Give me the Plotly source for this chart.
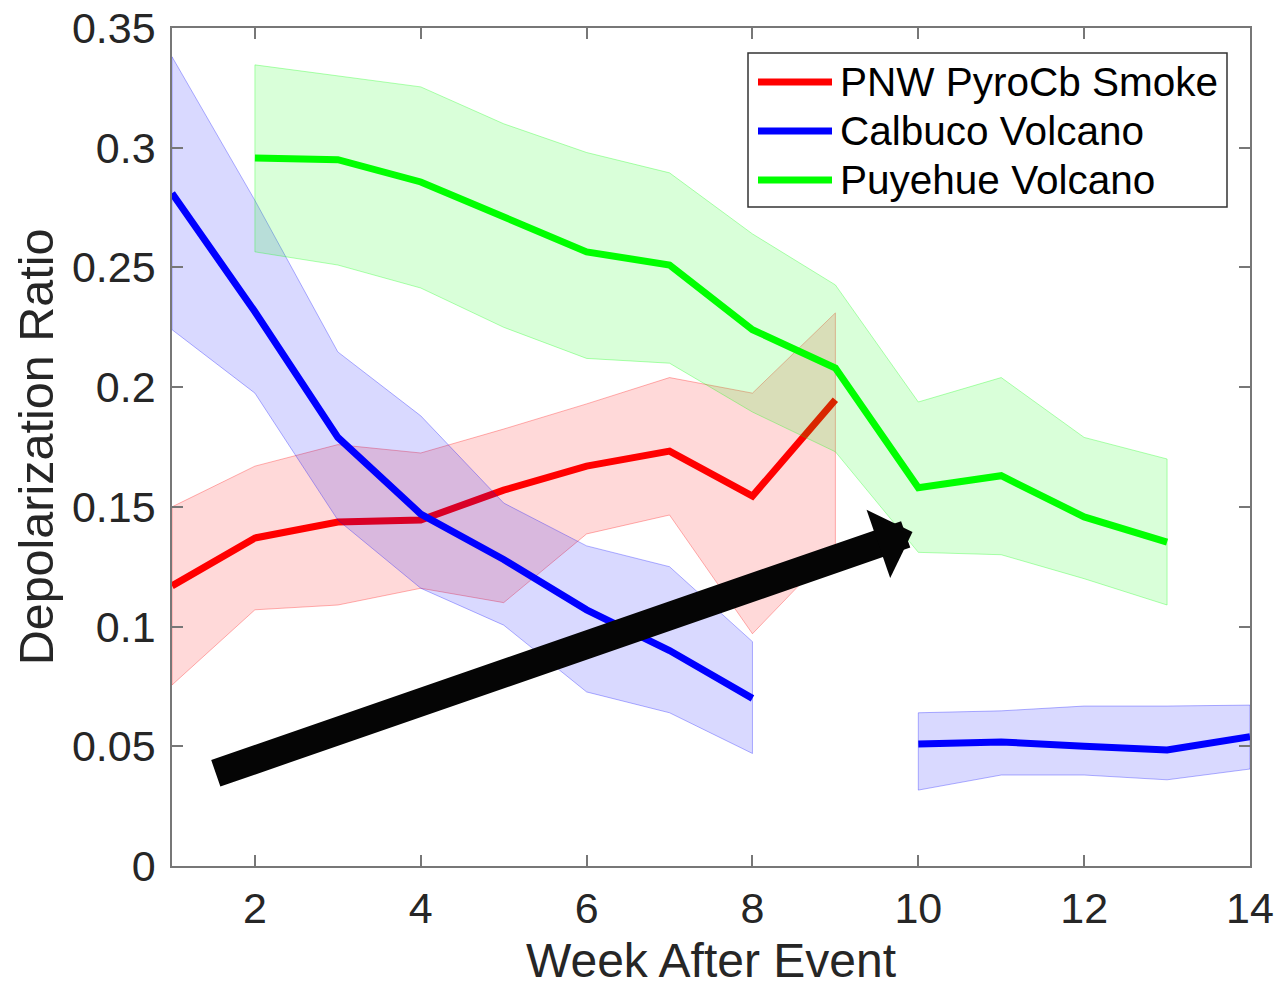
import plotly.graph_objects as go

weeks = list(range(1, 15))

pnw_mean  = [0.117, 0.137, 0.1437, 0.1445, 0.157, 0.167, 0.1733, 0.1545, 0.1947, None, None, None, None, None]
pnw_upper = [0.150, 0.167, 0.176, 0.1725, 0.1825, 0.193, 0.204, 0.1975, 0.231, None, None, None, None, None]
pnw_lower = [0.0756, 0.107, 0.109, 0.116, 0.110, 0.1387, 0.1466, 0.097, 0.133, None, None, None, None, None]

calbuco_mean  = [0.281, 0.2315, 0.179, 0.147, 0.128, 0.107, 0.090, 0.070, None, 0.051, 0.0518, 0.050, 0.0485, 0.054]
calbuco_upper = [0.338, 0.278, 0.2147, 0.188, 0.1516, 0.1337, 0.125, 0.0937, None, 0.064, 0.0648, 0.0668, 0.0668, 0.0672]
calbuco_lower = [0.224, 0.1975, 0.1445, 0.116, 0.1006, 0.0727, 0.064, 0.047, None, 0.0317, 0.038, 0.038, 0.036, 0.0405]

puyehue_mean  = [None, 0.2957, 0.295, 0.2857, 0.271, 0.2565, 0.251, 0.224, 0.208, 0.158, 0.163, 0.1458, 0.1353, None]
puyehue_upper = [None, 0.3346, 0.330, 0.3254, 0.310, 0.298, 0.2895, 0.264, 0.2427, 0.1938, 0.204, 0.179, 0.170, None]
puyehue_lower = [None, 0.2565, 0.251, 0.2414, 0.225, 0.212, 0.210, 0.1896, 0.173, 0.131, 0.130, 0.120, 0.109, None]

series_names = ["PNW PyroCb Smoke", "Calbuco Volcano", "Puyehue Volcano"]
x_ticks = [2, 4, 6, 8, 10, 12, 14]
y_ticks = [0, 0.05, 0.1, 0.15, 0.2, 0.25, 0.3, 0.35]
y_tick_labels = ["0", "0.05", "0.1", "0.15", "0.2", "0.25", "0.3", "0.35"]

# arrow annotation (data coordinates): tail -> tip
arrow_tail = (1.51, 0.0385)
arrow_tip = (9.93, 0.1395)

FONT = "Liberation Sans, Arial, Helvetica, sans-serif"
TXT = "#262626"

W, H = 1280, 988
ML, MR, MT, MB = 172, 30, 28, 122
PW, PH = W - ML - MR, H - MT - MB

def px(xp):
    return (xp - ML) / PW

def py(yp):
    return (H - MB - yp) / PH

def segments(x, lo, hi):
    segs, cur = [], []
    for xi, l, h in zip(x, lo, hi):
        if l is None or h is None:
            if cur:
                segs.append(cur)
            cur = []
        else:
            cur.append((xi, l, h))
    if cur:
        segs.append(cur)
    return segs

fig = go.Figure()

line_colors = ["rgb(255,0,0)", "rgb(0,0,255)", "rgb(0,255,0)"]
fill_colors = ["rgba(255,0,0,0.15)", "rgba(0,0,255,0.15)", "rgba(0,255,0,0.15)"]
edge_colors = ["rgba(255,0,0,0.3)", "rgba(0,0,255,0.3)", "rgba(0,255,0,0.3)"]
means = [pnw_mean, calbuco_mean, puyehue_mean]
lowers = [pnw_lower, calbuco_lower, puyehue_lower]
uppers = [pnw_upper, calbuco_upper, puyehue_upper]

for name, lc, fc, ec, mean, lo, hi in zip(series_names, line_colors, fill_colors,
                                          edge_colors, means, lowers, uppers):
    for seg in segments(weeks, lo, hi):
        xs = [s[0] for s in seg]
        ls = [s[1] for s in seg]
        hs = [s[2] for s in seg]
        fig.add_trace(go.Scatter(
            x=xs + xs[::-1] + [xs[0]],
            y=hs + ls[::-1] + [hs[0]],
            fill="toself", fillcolor=fc, mode="lines",
            line=dict(color=ec, width=1),
            showlegend=False, hoverinfo="skip"))
    fig.add_trace(go.Scatter(
        x=weeks, y=mean, mode="lines", name=name,
        line=dict(color=lc, width=7), connectgaps=False, showlegend=False))

# black arrow
fig.add_annotation(
    x=arrow_tip[0], y=arrow_tip[1], ax=arrow_tail[0], ay=arrow_tail[1],
    xref="x", yref="y", axref="x", ayref="y", text="",
    showarrow=True, arrowhead=1, arrowsize=0.43, arrowwidth=28,
    arrowcolor="#050505", standoff=0, startstandoff=0)

# legend box (MATLAB style)
leg_left, leg_right, leg_top, leg_bottom = 748, 1227, 53, 207
row_y = [82, 131, 180]
fig.add_shape(type="rect", xref="paper", yref="paper",
              x0=px(leg_left), x1=px(leg_right), y0=py(leg_bottom), y1=py(leg_top),
              line=dict(color="#333333", width=1.5), fillcolor="white", layer="above")
for name, lc, ry in zip(series_names, line_colors, row_y):
    fig.add_shape(type="line", xref="paper", yref="paper",
                  x0=px(758), x1=px(832), y0=py(ry), y1=py(ry),
                  line=dict(color=lc, width=7), layer="above")
    fig.add_annotation(x=px(838), y=py(ry), xref="paper", yref="paper",
                       text=name, showarrow=False, xanchor="left", yanchor="middle",
                       font=dict(family=FONT, size=40.5, color="black"))

axis_common = dict(
    showline=True, linecolor="#777777", linewidth=1.5, mirror="ticks",
    ticks="inside", ticklen=11, tickwidth=1.5, tickcolor="#777777",
    showgrid=False, zeroline=False,
    tickfont=dict(family=FONT, size=43, color=TXT),
)

fig.update_xaxes(
    range=[1, 14], tickvals=x_ticks, ticktext=[str(v) for v in x_ticks],
    title=dict(text="Week After Event", font=dict(family=FONT, size=48, color=TXT), standoff=12),
    ticklabelstandoff=4, **axis_common)
fig.update_yaxes(
    range=[0, 0.35], tickvals=y_ticks, ticktext=y_tick_labels,
    title=dict(text="Depolarization Ratio", font=dict(family=FONT, size=48.5, color=TXT), standoff=3),
    ticklabelstandoff=6, **axis_common)

fig.update_layout(
    width=W, height=H,
    margin=dict(l=ML, r=MR, t=MT, b=MB, autoexpand=False),
    paper_bgcolor="white", plot_bgcolor="white",
    font=dict(family=FONT, color=TXT),
    showlegend=False,
)

fig.write_html("out.html")
